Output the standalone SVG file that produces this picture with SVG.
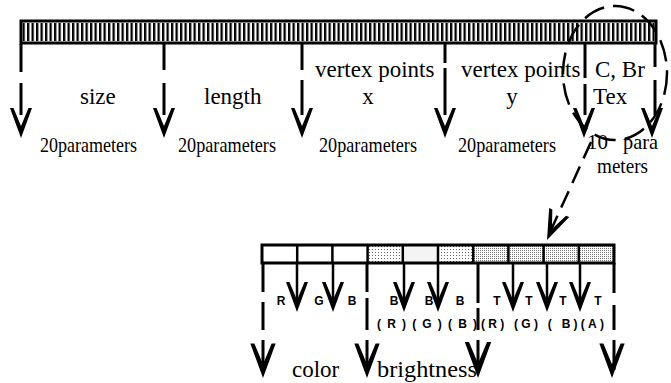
<svg xmlns="http://www.w3.org/2000/svg" width="671" height="383" viewBox="0 0 671 383">
<style>
.serif{font-family:"Liberation Serif","Times New Roman",serif;font-size:23px;fill:#000}
.small{font-family:"Liberation Serif","Times New Roman",serif;font-size:21px;fill:#000}
.lbl{font-family:"Liberation Sans",Arial,sans-serif;font-size:12px;font-weight:bold;fill:#000}
.dash{stroke:#000;stroke-width:3;fill:none}
.thin{stroke:#000;stroke-width:2.5;fill:none}
.ah{fill:#000}
</style>
<defs>
<pattern id="stripe" patternUnits="userSpaceOnUse" width="4.5" height="10">
<rect x="0" y="0" width="2.3" height="10" fill="#000"/>
</pattern>
<pattern id="dotL" patternUnits="userSpaceOnUse" width="3" height="3">
<rect width="3" height="3" fill="#fff"/>
<rect x="0" y="0" width="1" height="1" fill="#666"/>
</pattern>
<pattern id="dotD" patternUnits="userSpaceOnUse" width="2" height="2">
<rect width="2" height="2" fill="#fff"/>
<rect x="0" y="0" width="1" height="1" fill="#777"/>
</pattern>
<path id="ah" d="M0,0 L-11,-30 L-7.5,-30 L0,-12 L7.5,-30 L11,-30 Z"/>
</defs>

<g id="top-bar">
<rect x="21" y="21" width="635" height="22" fill="#fff"/>
<rect x="22.5" y="23" width="632" height="18" fill="url(#stripe)"/>
<rect x="21" y="21" width="635" height="22" fill="none" stroke="#000" stroke-width="3"/>
</g>

<g id="connectors">
<path class="dash" d="M21,44 V72 M21,83 V115"/>
<use href="#ah" x="21" y="138" class="ah"/>
<path class="dash" d="M164,43 V70 M164,83 V115"/>
<use href="#ah" x="164" y="138" class="ah"/>
<path class="dash" d="M302,43 V70 M302,80 V115"/>
<use href="#ah" x="302" y="138" class="ah"/>
<path class="dash" d="M445,44 V63 M445,68 V115"/>
<use href="#ah" x="445" y="138" class="ah"/>
<path class="dash" d="M585,44 V78 M585,84 V115"/>
<use href="#ah" x="584" y="138" class="ah"/>
<path class="dash" d="M655,44 V67 M655,80 V115"/>
<use href="#ah" x="652" y="138" class="ah"/>
<ellipse cx="615" cy="73" rx="52" ry="67" fill="none" stroke="#000" stroke-width="2.5" stroke-dasharray="22,9"/>
<path class="thin" d="M591,142 L551,230" stroke-dasharray="18,9"/>
<use href="#ah" transform="translate(547,240) rotate(24)" class="ah"/>

<path class="thin" d="M297,263 V300 M333,263 V300 M404,263 V300 M438,263 V300 M513,263 V300 M547,263 V300 M580,263 V300"/>
<use href="#ah" x="297" y="312" class="ah"/>
<use href="#ah" x="333" y="312" class="ah"/>
<use href="#ah" x="404" y="312" class="ah"/>
<use href="#ah" x="438" y="312" class="ah"/>
<use href="#ah" x="513" y="312" class="ah"/>
<use href="#ah" x="547" y="312" class="ah"/>
<use href="#ah" x="580" y="312" class="ah"/>

<path class="dash" d="M263,263 V292 M263,302 V330 M263,340 V370"/>
<use href="#ah" transform="translate(263,378) scale(1.15)" class="ah"/>
<path class="dash" d="M367,263 V292 M367,298 V330 M367,340 V370"/>
<use href="#ah" transform="translate(367,378) scale(1.15)" class="ah"/>
<path class="dash" d="M478,263 V303 M478,308 V330 M478,340 V370"/>
<use href="#ah" transform="translate(478,378) scale(1.2)" class="ah"/>
<path class="dash" d="M614,263 V293 M614,305 V330 M614,340 V370"/>
<use href="#ah" transform="translate(612,378) scale(1.15)" class="ah"/>
</g>

<g id="bottom-bar">
<rect x="262" y="245" width="105.6" height="18" fill="#fff"/>
<rect x="367.6" y="245" width="35.2" height="18" fill="url(#dotL)"/>
<rect x="402.8" y="245" width="35.2" height="18" fill="#f4f4f4"/>
<rect x="438" y="245" width="35.2" height="18" fill="url(#dotL)"/>
<rect x="473.2" y="245" width="140.8" height="18" fill="url(#dotD)"/>
<path d="M297.2,245 V263 M332.4,245 V263 M367.6,245 V263 M402.8,245 V263 M438,245 V263 M473.2,245 V263 M508.4,245 V263 M543.6,245 V263 M578.8,245 V263" stroke="#000" stroke-width="2.5"/>
<rect x="262" y="245" width="352" height="18" fill="none" stroke="#000" stroke-width="3"/>
</g>

<g id="top-labels">
<text class="serif" x="80" y="104">size</text>
<text class="serif" x="204" y="104">length</text>
<text class="serif" x="315" y="77">vertex points</text>
<text class="serif" x="368" y="104" text-anchor="middle">x</text>
<text class="serif" x="461" y="77">vertex points</text>
<text class="serif" x="512" y="104" text-anchor="middle">y</text>
<text class="serif" x="595" y="77">C, Br</text>
<text class="serif" x="593" y="104">Tex</text>
<text class="small" x="40" y="152" textLength="97" lengthAdjust="spacingAndGlyphs">20parameters</text>
<text class="small" x="178" y="152" textLength="98" lengthAdjust="spacingAndGlyphs">20parameters</text>
<text class="small" x="319" y="152" textLength="98" lengthAdjust="spacingAndGlyphs">20parameters</text>
<text class="small" x="458" y="152" textLength="98" lengthAdjust="spacingAndGlyphs">20parameters</text>
<text class="small" x="587" y="149" font-size="19">10</text>
<text class="small" x="623" y="149" font-size="19" textLength="35" lengthAdjust="spacingAndGlyphs">para</text>
<text class="small" x="597" y="173" font-size="19" textLength="51" lengthAdjust="spacingAndGlyphs">meters</text>
</g>

<g id="bottom-labels">
<text class="lbl" x="281" y="305" text-anchor="middle">R</text>
<text class="lbl" x="319" y="305" text-anchor="middle">G</text>
<text class="lbl" x="352" y="305" text-anchor="middle">B</text>
<text class="lbl" x="394" y="305" text-anchor="middle">B</text>
<text class="lbl" x="429" y="305" text-anchor="middle">B</text>
<text class="lbl" x="460" y="305" text-anchor="middle">B</text>
<text class="lbl" x="497" y="305" text-anchor="middle">T</text>
<text class="lbl" x="529" y="305" text-anchor="middle">T</text>
<text class="lbl" x="563" y="305" text-anchor="middle">T</text>
<text class="lbl" x="598" y="305" text-anchor="middle">T</text>
<text class="lbl" x="377" y="328" textLength="100" lengthAdjust="spacing">( R ) ( G ) ( B )</text>
<text class="lbl" x="481" y="328" textLength="123" lengthAdjust="spacing">(R) (G) ( B)(A)</text>
<text class="serif" x="292" y="377">color</text>
<text class="serif" x="377" y="377" textLength="100" lengthAdjust="spacingAndGlyphs">brightness</text>
</g>
</svg>
